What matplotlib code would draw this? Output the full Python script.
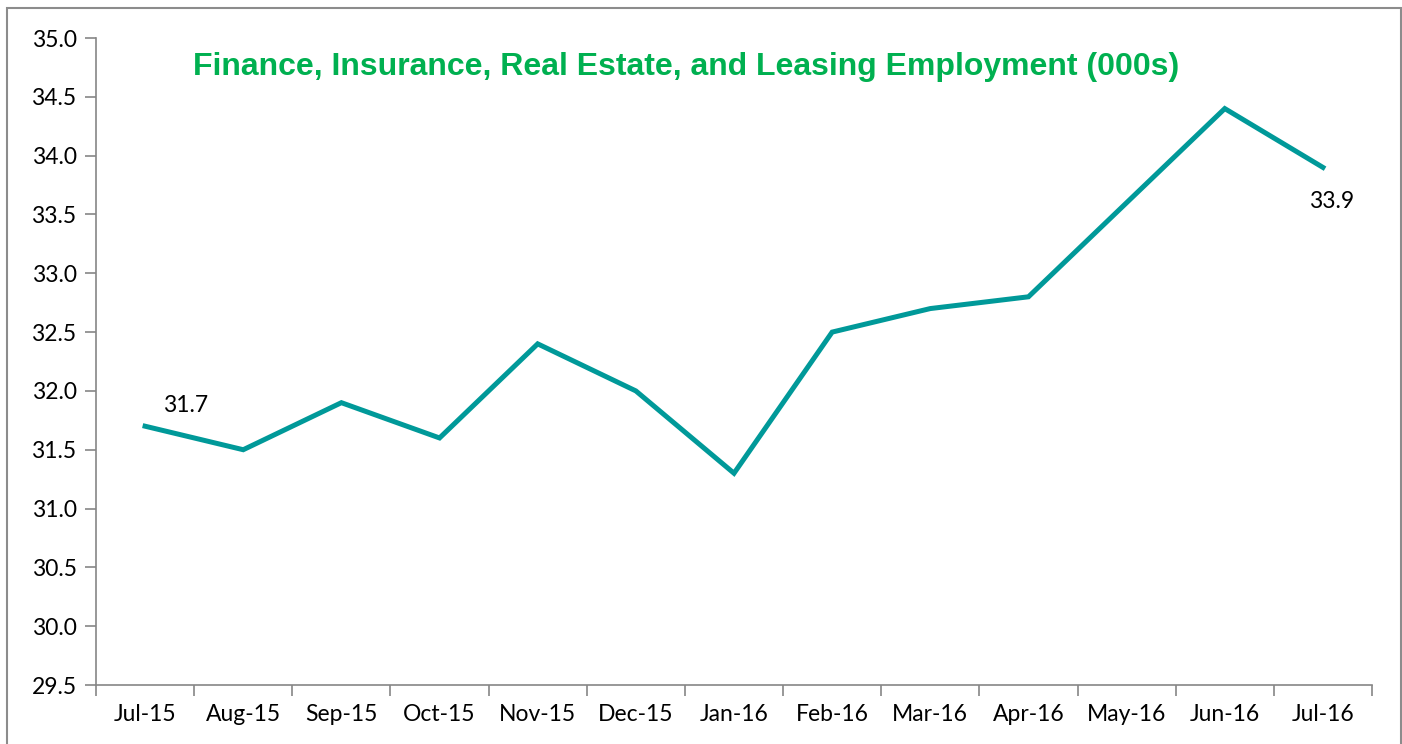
import matplotlib.pyplot as plt
from matplotlib.patches import Rectangle

months = ['Jul-15', 'Aug-15', 'Sep-15', 'Oct-15', 'Nov-15', 'Dec-15', 'Jan-16',
          'Feb-16', 'Mar-16', 'Apr-16', 'May-16', 'Jun-16', 'Jul-16']
employment = [31.7, 31.5, 31.9, 31.6, 32.4, 32.0, 31.3, 32.5, 32.7, 32.8, 33.6, 34.4, 33.9]
yticks = [29.5, 30.0, 30.5, 31.0, 31.5, 32.0, 32.5, 33.0, 33.5, 34.0, 34.5, 35.0]

plt.rcParams['font.family'] = ['Lato', 'DejaVu Sans']

fig = plt.figure(figsize=(14.02, 7.44), dpi=100)
ax = fig.add_axes([96 / 1402, 1 - 685 / 744, (1372 - 96) / 1402, (685 - 38) / 744])

# outer chart border
fig.patches.append(Rectangle((7 / 1402, -0.05), (1401 - 7) / 1402, 1 - 8 / 744 + 0.05,
                             transform=fig.transFigure, fill=False,
                             edgecolor='#8c8c8c', linewidth=1.5))

x = list(range(len(months)))
ax.plot(x, employment, color='#009999', linewidth=3.6, solid_joinstyle='miter')

ax.annotate(f'{employment[0]:.1f}', (x[0], employment[0]), xytext=(13, 7),
            textcoords='offset points', fontsize=16.5, ha='left', va='bottom')
ax.annotate(f'{employment[-1]:.1f}', (x[-1], employment[-1]), xytext=(-10, -17),
            textcoords='offset points', fontsize=16.5, ha='left', va='top')

ax.set_xlim(-0.5, len(months) - 0.5)
ax.set_ylim(29.5, 35.0)
ax.set_yticks(yticks)
ax.set_yticklabels([f'{v:.1f}' for v in yticks], fontsize=16.5)

ax.set_xticks(x)
ax.set_xticklabels(months, fontsize=16.5)
ax.tick_params(axis='x', which='major', length=0, pad=14)
ax.set_xticks([i - 0.5 for i in range(len(months) + 1)], minor=True)
ax.tick_params(axis='x', which='minor', length=8, color='#868686', width=1.2, direction='out')
ax.tick_params(axis='y', length=8, color='#868686', width=1.2, direction='out', pad=6)

for side in ['top', 'right']:
    ax.spines[side].set_visible(False)
for side in ['left', 'bottom']:
    ax.spines[side].set_color('#868686')
    ax.spines[side].set_linewidth(1.2)

fig.text(686 / 1402, 1 - 67 / 744, 'Finance, Insurance, Real Estate, and Leasing Employment (000s)',
         fontsize=23, fontweight='bold', color='#00B050', family='Liberation Sans',
         ha='center', va='center')

fig.savefig('out.png', dpi=100)
